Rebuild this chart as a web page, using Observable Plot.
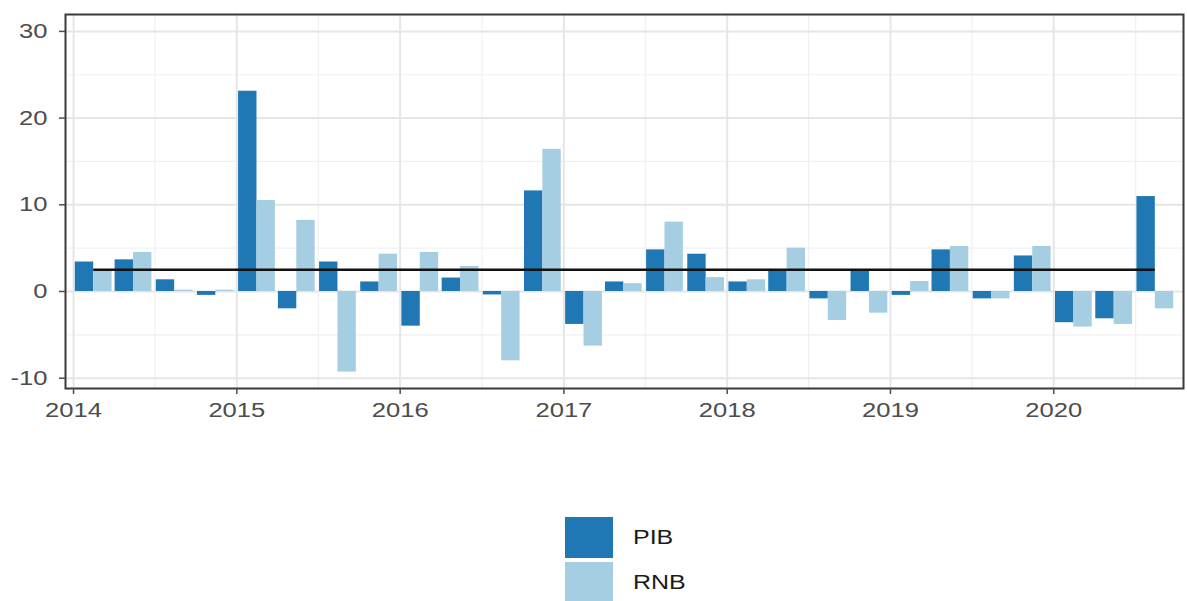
<!DOCTYPE html>
<html><head><meta charset="utf-8">
<script src="https://cdn.jsdelivr.net/npm/d3@7"></script>
<script src="https://cdn.jsdelivr.net/npm/@observablehq/plot@0.6"></script>
<style>
body{margin:0;background:#fff;font-family:"Liberation Sans",Arial,sans-serif;}
#legend{position:relative;height:171px;}
.key{position:absolute;left:565px;width:48px;height:41px;}
.lab{position:absolute;left:633px;font-size:20px;color:#1a1a1a;transform:scaleX(1.25);transform-origin:left center;line-height:41px;height:41px;}
</style></head><body>
<div id="chart"></div>
<div id="legend"></div>
<script>
// Quarter mid-points (2014 Q1 – 2020 Q3)
const quarters = [
  "2014-02-15","2014-05-15","2014-08-15","2014-11-15",
  "2015-02-15","2015-05-15","2015-08-15","2015-11-15",
  "2016-02-15","2016-05-15","2016-08-15","2016-11-15",
  "2017-02-15","2017-05-15","2017-08-15","2017-11-15",
  "2018-02-15","2018-05-15","2018-08-15","2018-11-15",
  "2019-02-15","2019-05-15","2019-08-15","2019-11-15",
  "2020-02-15","2020-05-15","2020-08-15"
];
const pib = [3.4, 3.65, 1.35, -0.45, 23.1, -2.0, 3.4, 1.1, -4.0, 1.55, -0.4, 11.6,
             -3.8, 1.1, 4.8, 4.3, 1.1, 2.5, -0.85, 2.4, -0.45, 4.8, -0.85, 4.1,
             -3.6, -3.15, 10.95];
const rnb = [2.4, 4.5, 0.15, 0.15, 10.5, 8.2, -9.3, 4.3, 4.5, 2.9, -8.0, 16.4,
             -6.3, 0.9, 8.0, 1.6, 1.35, 5.0, -3.35, -2.5, 1.15, 5.2, -0.85, 5.2,
             -4.1, -3.8, -2.0];
const seriesNames = ["PIB", "RNB"];
const seriesColors = ["#1f78b4", "#a6cee3"];
const referenceLevel = 2.5;
const yTicks = [-10, 0, 10, 20, 30];
const yMinorTicks = [-5, 5, 15, 25];
const yearTicks = ["2014","2015","2016","2017","2018","2019","2020"];
const midYearTicks = ["2014-07-02","2015-07-02","2016-07-02","2017-07-02","2018-07-02","2019-07-02","2020-07-02"];

const DAY = 864e5;
const half = 0.45 * 365.25 / 4 * DAY;
const rows = [];
quarters.forEach((q, i) => {
  const c = new Date(q).getTime();
  rows.push({series: seriesNames[0], x1: new Date(c - half), x2: new Date(c), v: pib[i]});
  rows.push({series: seriesNames[1], x1: new Date(c), x2: new Date(c + half), v: rnb[i]});
});
const yearDates = yearTicks.map(y => new Date(y + "-01-01"));
const midDates = midYearTicks.map(d => new Date(d));
const firstQ = new Date(quarters[0]), lastQ = new Date(quarters[quarters.length - 1]);

const chart = Plot.plot({
  width: 1187, height: 430,
  marginLeft: 65, marginRight: 4, marginTop: 14, marginBottom: 42,
  style: {fontFamily: "'Liberation Sans', Arial, sans-serif", fontSize: "20px", background: "#fff"},
  x: {type: "utc", domain: [new Date("2013-12-14"), new Date("2020-10-17")]},
  y: {domain: [-11.19, 31.95]},
  color: {domain: seriesNames, range: seriesColors},
  marks: [
    Plot.gridX(midDates, {stroke: "#f0f0f0", strokeOpacity: 1, strokeWidth: 1.2}),
    Plot.gridY(yMinorTicks, {stroke: "#f0f0f0", strokeOpacity: 1, strokeWidth: 1.2}),
    Plot.gridX(yearDates, {stroke: "#e6e6e6", strokeOpacity: 1, strokeWidth: 2}),
    Plot.gridY(yTicks, {stroke: "#e6e6e6", strokeOpacity: 1, strokeWidth: 2}),
    Plot.rectY(rows, {x1: "x1", x2: "x2", y1: 0, y2: "v", fill: "series"}),
    Plot.ruleY([referenceLevel], {x1: () => firstQ, x2: () => lastQ, stroke: "#111", strokeWidth: 2.5}),
    Plot.frame({stroke: "#3a3a3a", strokeWidth: 2}),
    Plot.axisX(yearDates, {tickSize: 6, tickPadding: 8, tickFormat: d => d3.utcFormat("%Y")(d), color: "#4d4d4d", strokeWidth: 1.5, label: null}),
    Plot.axisY(yTicks, {tickSize: 6, tickPadding: 12, tickFormat: d => String(d), color: "#4d4d4d", strokeWidth: 1.5, label: null})
  ]
});
chart.querySelectorAll("text").forEach(t => {
  const tr = t.getAttribute("transform") || "";
  t.setAttribute("transform", tr + " scale(1.28,1)");
});
document.getElementById("chart").appendChild(chart);

const legend = document.getElementById("legend");
seriesNames.forEach((name, i) => {
  const top = 87 + i * 45;
  const k = document.createElement("div");
  k.className = "key"; k.style.top = top + "px"; k.style.background = seriesColors[i];
  const l = document.createElement("div");
  l.className = "lab"; l.style.top = top + "px"; l.textContent = name;
  legend.appendChild(k); legend.appendChild(l);
});
</script>
</body></html>
